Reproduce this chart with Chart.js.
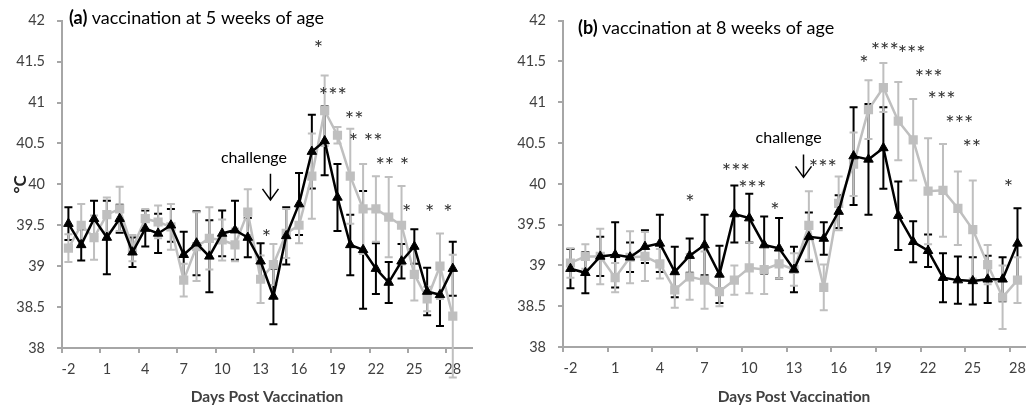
<!DOCTYPE html>
<html>
<head>
<meta charset="utf-8">
<script src="https://cdn.jsdelivr.net/npm/chart.js@4.4.1/dist/chart.umd.min.js"></script>
<style>
  html, body { margin: 0; padding: 0; background: #fff; overflow: hidden; }
  #wrapA { position: absolute; left: 0; top: 0; width: 510px; height: 411px; }
  #wrapB { position: absolute; left: 510px; top: 0; width: 524px; height: 411px; }
</style>
</head>
<body>
<div id="wrapA"><canvas id="chartA"></canvas></div>
<div id="wrapB"><canvas id="chartB"></canvas></div>
<script>
// days on the x axis (panel a has one empty slot at the end)
const daysA = [-2,-1,0,1,2,3,4,5,6,7,8,9,10,11,12,13,14,15,16,17,18,19,20,21,22,23,24,25,26,27,28,29];
const daysB = [-2,-1,0,1,2,3,4,5,6,7,8,9,10,11,12,13,14,15,16,17,18,19,20,21,22,23,24,25,26,27,28];

// (a) vaccination at 5 weeks
const blackA    = [39.52,39.26,39.58,39.35,39.58,39.17,39.46,39.40,39.50,39.14,39.28,39.12,39.40,39.44,39.35,39.06,38.63,39.37,39.76,40.40,40.53,39.84,39.26,39.20,38.97,38.80,39.06,39.24,38.69,38.65,38.97,null];
const blackErrA = [0.20,0.19,0.22,0.45,0.17,0.18,0.22,0.24,0.20,0.28,0.39,0.44,0.28,0.36,0.24,0.22,0.34,0.35,0.38,0.45,0.42,0.41,0.37,0.72,0.31,0.25,0.21,0.21,0.29,0.38,0.33,null];
const greyA     = [39.22,39.50,39.35,39.63,39.70,39.22,39.58,39.54,39.48,38.83,39.24,39.34,39.32,39.26,39.66,38.84,39.02,39.40,39.50,40.10,40.90,40.60,40.10,39.70,39.70,39.60,39.50,38.90,38.60,39.00,38.39,null];
const greyErrA  = [0.17,0.26,0.27,0.21,0.27,0.16,0.12,0.20,0.28,0.20,0.42,0.38,0.25,0.20,0.28,0.29,0.25,0.30,0.22,0.52,0.43,0.10,0.58,0.55,0.40,0.49,0.48,0.32,0.15,0.40,0.75,null];

// (b) vaccination at 8 weeks
const blackB    = [38.96,38.91,39.11,39.13,39.10,39.23,39.27,38.92,39.12,39.25,38.89,39.63,39.58,39.25,39.21,38.95,39.35,39.33,39.66,40.34,40.30,40.44,39.61,39.29,39.18,38.85,38.82,38.81,38.83,38.83,39.27];
const blackErrB = [0.24,0.25,0.24,0.40,0.18,0.20,0.35,0.31,0.21,0.37,0.35,0.35,0.30,0.35,0.37,0.28,0.30,0.20,0.20,0.60,0.68,0.50,0.42,0.25,0.20,0.30,0.29,0.29,0.29,0.27,0.43];
const greyB     = [39.03,39.11,39.11,38.85,39.10,39.11,39.02,38.70,38.86,38.82,38.68,38.82,38.97,38.95,39.02,38.95,39.49,38.73,39.76,40.24,40.91,41.18,40.77,40.54,39.91,39.92,39.70,39.44,39.01,38.61,38.82];
const greyErrB  = [0.18,0.15,0.34,0.18,0.32,0.30,0.18,0.22,0.28,0.35,0.18,0.18,0.31,0.30,0.18,0.20,0.42,0.28,0.33,0.39,0.36,0.30,0.48,0.50,0.65,0.57,0.45,0.60,0.24,0.39,0.28];

// significance marks: day, temperature, text
const starDaysA  = [13.46,17.52,18.64,20.3,21.2,23.28,24.4,26.19,27.62];
const starTempsA = [39.40,41.71,41.14,40.85,40.58,40.28,39.71,39.71,39.71];
const starTextA  = ['*','*','***','**','* **','** *','*','*','*'];

const starDaysB  = [6.02,9.1,10.2,11.72,14.94,17.7,19.09,20.9,22.04,22.91,24.1,24.93,27.4];
const starTempsB = [39.83,40.21,40.0,39.73,40.25,41.53,41.69,41.65,41.36,41.09,40.80,40.50,40.01];
const starTextB  = ['*','***','***','*','***','*','***','***','***','***','***','**','*'];

// challenge note: text anchor and arrow (day, temp top, temp bottom)
const challengeA = [12.48, 40.33, 13.77, 40.13, 39.81];
const challengeB = [12.64, 40.57, 13.64, 40.36, 40.08];

const FONT = 'Lato, Carlito, Calibri, sans-serif';
const AXIS = '#a6a6a6';
const BLACK = '#000000';
const GREY = '#bfbfbf';

const errorBars = {
  id: 'errorBars',
  beforeDatasetsDraw(chart) {
    const ctx = chart.ctx;
    const ys = chart.scales.y;
    chart.data.datasets.forEach((ds, di) => {
      const meta = chart.getDatasetMeta(di);
      ctx.save();
      ctx.strokeStyle = ds.borderColor;
      ctx.lineWidth = 2;
      meta.data.forEach((pt, i) => {
        const v = ds.data[i], e = ds.errors[i];
        if (v == null || e == null) return;
        const t = ys.getPixelForValue(v + e), b = ys.getPixelForValue(v - e);
        ctx.beginPath();
        ctx.moveTo(pt.x, t); ctx.lineTo(pt.x, b);
        ctx.moveTo(pt.x - 4, t); ctx.lineTo(pt.x + 4, t);
        ctx.moveTo(pt.x - 4, b); ctx.lineTo(pt.x + 4, b);
        ctx.stroke();
      });
      ctx.restore();
    });
  }
};

const notes = {
  id: 'notes',
  afterDatasetsDraw(chart, args, o) {
    const ctx = chart.ctx;
    const xs = chart.scales.x, ys = chart.scales.y;
    const xOf = d => xs.getPixelForValue(d - o.days[0]);
    ctx.save();
    // asterisks
    ctx.fillStyle = '#333';
    ctx.font = '22px ' + FONT;
    ctx.textAlign = 'center';
    ctx.textBaseline = 'alphabetic';
    o.starDays.forEach((d, i) => {
      ctx.fillText(o.starText[i], xOf(d), ys.getPixelForValue(o.starTemps[i]) + 12);
    });
    // challenge
    const c = o.challenge;
    ctx.fillStyle = '#000';
    ctx.font = '16px ' + FONT;
    ctx.textBaseline = 'middle';
    ctx.fillText('challenge', xOf(c[0]), ys.getPixelForValue(c[1]));
    const ax = xOf(c[2]), at = ys.getPixelForValue(c[3]), ab = ys.getPixelForValue(c[4]);
    ctx.strokeStyle = '#000';
    ctx.lineWidth = 1.5;
    ctx.beginPath();
    ctx.moveTo(ax, at); ctx.lineTo(ax, ab);
    ctx.moveTo(ax - 8, ab - 11); ctx.lineTo(ax, ab); ctx.lineTo(ax + 8, ab - 11);
    ctx.stroke();
    // panel title
    const a = chart.chartArea;
    ctx.textAlign = 'left';
    ctx.font = 'bold 18px ' + FONT;
    const tx = a.left + o.titleDx, ty = o.titleY;
    ctx.fillText(o.tag, tx, ty);
    const w = ctx.measureText(o.tag + ' ').width;
    ctx.font = '18px ' + FONT;
    ctx.fillText(o.title, tx + w, ty);
    ctx.restore();
  }
};

function makeChart(id, days, black, blackErr, grey, greyErr, opts) {
  return new Chart(document.getElementById(id), {
    type: 'line',
    data: {
      labels: days.map(String),
      datasets: [
        {
          data: black, errors: blackErr,
          borderColor: BLACK, backgroundColor: BLACK,
          borderWidth: 2.5, pointStyle: 'triangle', pointRadius: 5.5,
          pointBorderWidth: 1, pointBackgroundColor: BLACK, pointBorderColor: BLACK,
          tension: 0
        },
        {
          data: grey, errors: greyErr,
          borderColor: GREY, backgroundColor: GREY,
          borderWidth: 2.5, pointStyle: 'rect', pointRadius: 6.5,
          pointBorderWidth: 0, pointBackgroundColor: GREY, pointBorderColor: GREY,
          tension: 0
        }
      ]
    },
    options: {
      responsive: true,
      maintainAspectRatio: false,
      animation: false,
      layout: { padding: { top: opts.top, right: opts.right, left: 0, bottom: 0 } },
      plugins: {
        legend: { display: false },
        tooltip: { enabled: false },
        notes: opts.notes
      },
      scales: {
        x: {
          offset: true,
          afterFit: s => { s.height = opts.xHeight; },
          grid: {
            offset: true, drawOnChartArea: false, drawTicks: true, tickLength: 5, lineWidth: 2,
            color: ctx => ctx.index % 3 === 0 ? AXIS : 'rgba(0,0,0,0)',
            tickColor: ctx => ctx.index % 3 === 0 ? AXIS : 'rgba(0,0,0,0)'
          },
          border: { color: AXIS, width: 2 },
          ticks: {
            autoSkip: false, maxRotation: 0, padding: 8,
            color: '#404040', font: { family: FONT, size: 14.5 },
            callback: function (v, i) { return i % 3 === 0 ? this.getLabelForValue(v) : ''; }
          },
          title: {
            display: true, text: 'Days Post Vaccination', color: '#404040',
            font: { family: FONT, size: 15.5, weight: 'bold' }, padding: { top: 0, bottom: 5 }
          }
        },
        y: {
          min: 38, max: 42,
          afterFit: s => { s.width = opts.yWidth; },
          grid: { drawOnChartArea: false, tickLength: 5, lineWidth: 2, color: AXIS, tickColor: AXIS },
          border: { color: AXIS, width: 2 },
          ticks: {
            stepSize: 0.5, padding: 12, color: '#404040', font: { family: FONT, size: 14.5 },
            callback: v => String(Math.round(v * 10) / 10)
          },
          title: {
            display: opts.yTitle, text: '°C', color: '#262626',
            font: { family: FONT, size: 17, weight: 'bold' }, padding: { top: 10, bottom: 0 }
          }
        }
      }
    },
    plugins: [errorBars, notes]
  });
}

makeChart('chartA', daysA, blackA, blackErrA, greyA, greyErrA, {
  top: 17, right: 38, xHeight: 63, yWidth: 62, yTitle: true,
  notes: {
    days: daysA, starDays: starDaysA, starTemps: starTempsA, starText: starTextA,
    challenge: challengeA, tag: '(a)', title: 'vaccination at 5 weeks of age', titleDx: 7, titleY: 18
  }
});

makeChart('chartB', daysB, blackB, blackErrB, greyB, greyErrB, {
  top: 16, right: 3, xHeight: 64, yWidth: 53, yTitle: false,
  notes: {
    days: daysB, starDays: starDaysB, starTemps: starTempsB, starText: starTextB,
    challenge: challengeB, tag: '(b)', title: 'vaccination at 8 weeks of age', titleDx: 15, titleY: 28
  }
});
</script>
</body>
</html>
